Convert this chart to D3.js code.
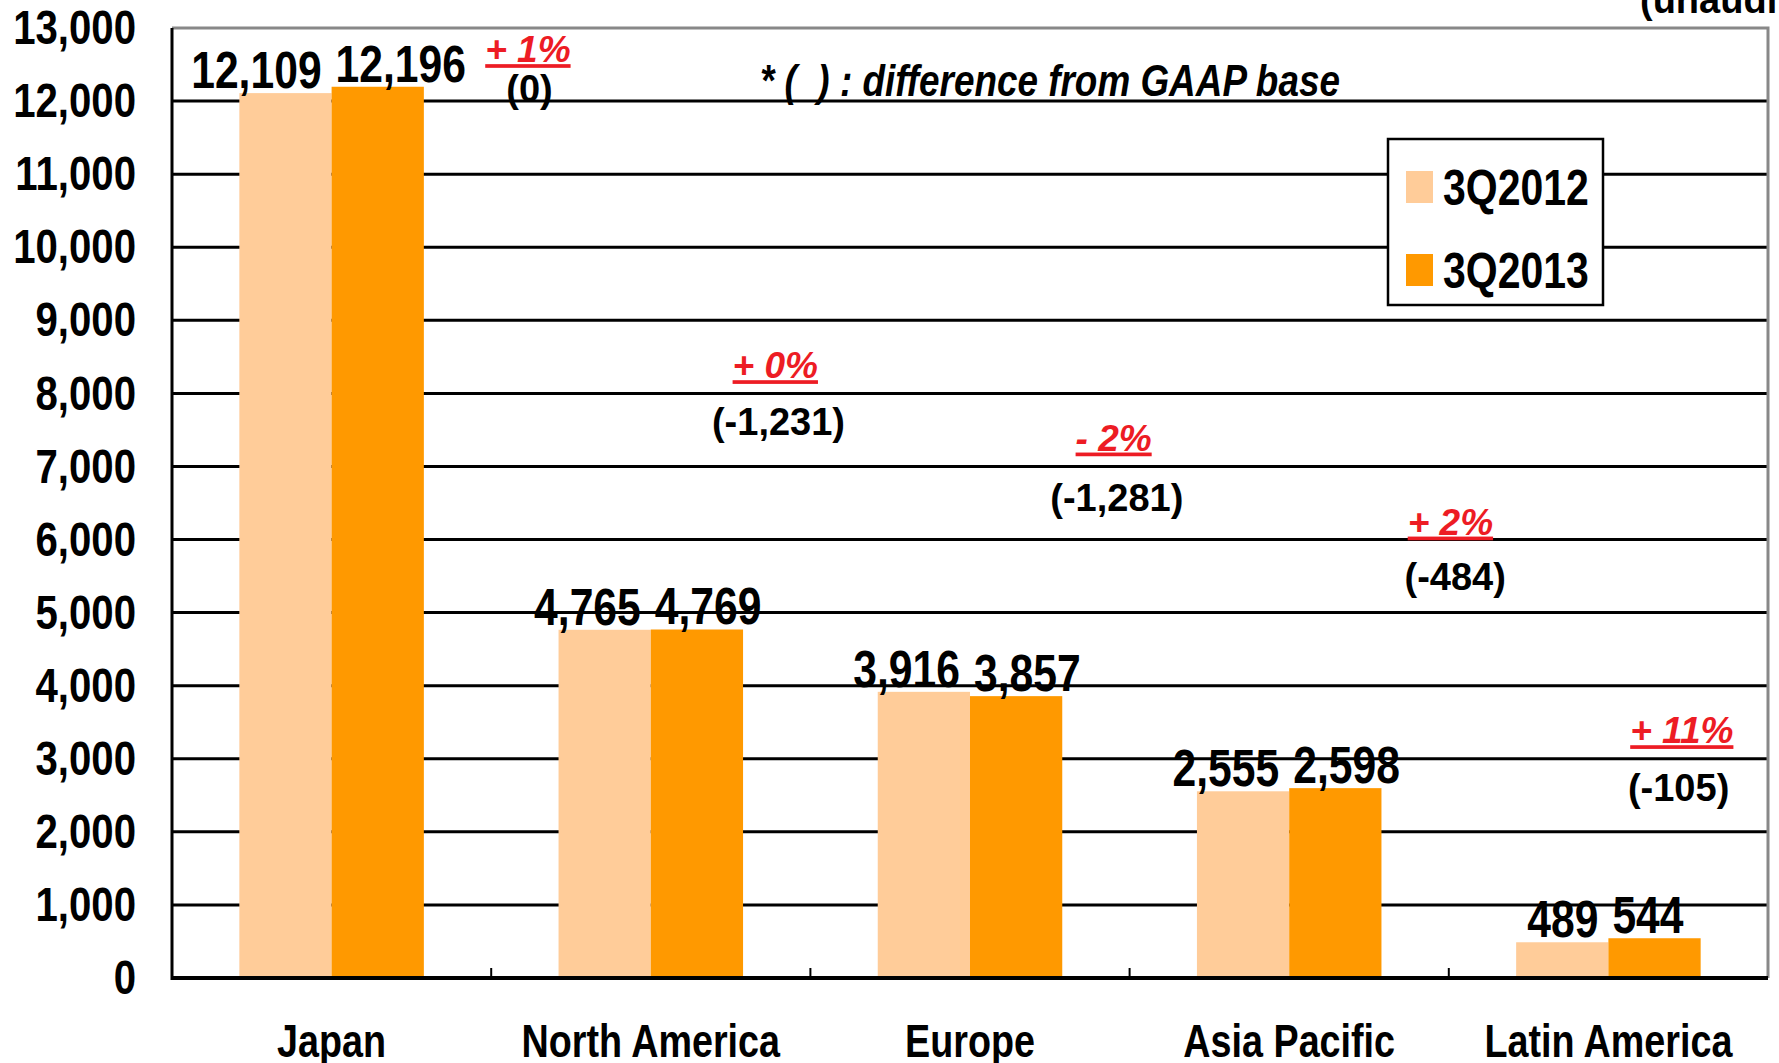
<!DOCTYPE html>
<html>
<head>
<meta charset="utf-8">
<script src="https://cdn.jsdelivr.net/npm/d3@7"></script>
<style>
  body { margin: 0; background: #fff; }
</style>
</head>
<body>
<script>
const regions = ["Japan", "North America", "Europe", "Asia Pacific", "Latin America"];
const series = ["3Q2012", "3Q2013"];
const sales2012 = [12109, 4765, 3916, 2555, 489];
const sales2013 = [12196, 4769, 3857, 2598, 544];
const changePct = ["+ 1%", "+ 0%", "- 2%", "+ 2%", "+ 11%"];
const gaapDiff = ["(0)", "(-1,231)", "(-1,281)", "(-484)", "(-105)"];
// where the notes sit: x in category units from the axis, y in sales units
const pctX = [1.115, 1.89, 2.95, 4.005, 4.73];
const pctY = [12715, 8390, 7400, 6250, 3395];
const diffX = [1.12, 1.9, 2.96, 4.02, 4.72];
const diffY = [12170, 7620, 6580, 5500, 2615];
const yTicks = d3.range(0, 13001, 1000);
const colors = ["#ffcc99", "#ff9900"];

const W = 1779, H = 1063;
const margin = { top: 28, right: 11, bottom: 85, left: 172 };
const iw = W - margin.left - margin.right;
const ih = H - margin.top - margin.bottom;

const sans = "'Liberation Sans', Arial, sans-serif";
const K = 0.82; // no narrow face installed, so squeeze the regular one

// squeeze text horizontally about its own anchor
function condense(sel) {
  sel.each(function () {
    const t = d3.select(this);
    const x = +t.attr("x") || 0;
    t.attr("x", x / K).attr("transform", `scale(${K},1)`);
  });
}

const svg = d3.select("body").append("svg").attr("width", W).attr("height", H);
const g = svg.append("g").attr("transform", `translate(${margin.left},${margin.top})`);

const x0 = d3.scaleBand().domain(regions).range([0, iw]);
const x1 = d3.scaleBand().domain(series).range([0, x0.bandwidth()]).paddingOuter(0.73);
const xs = d3.scaleLinear().domain([0, regions.length]).range([0, iw]);
const y = d3.scaleLinear().domain([0, 13000]).range([ih, 0]);

// gridlines
g.selectAll("line.grid")
  .data(yTicks.filter((d) => d > 0 && d < 13000))
  .enter()
  .append("line")
  .attr("x1", 0)
  .attr("x2", iw)
  .attr("y1", (d) => y(d))
  .attr("y2", (d) => y(d))
  .attr("stroke", "#000")
  .attr("stroke-width", 3);

// frame top + right (gray)
g.append("path")
  .attr("d", `M0,${y(13000)}H${iw}V${ih}`)
  .attr("fill", "none")
  .attr("stroke", "#888")
  .attr("stroke-width", 3);

// bars
const rows = regions.map((r, i) => ({ region: r, vals: [sales2012[i], sales2013[i]] }));
const grp = g.selectAll("g.cat").data(rows).enter().append("g")
  .attr("transform", (d) => `translate(${x0(d.region)},0)`);

grp.selectAll("rect")
  .data((d) => d.vals.map((v, j) => ({ key: series[j], v, j })))
  .enter()
  .append("rect")
  .attr("x", (d) => x1(d.key))
  .attr("y", (d) => y(d.v))
  .attr("width", x1.bandwidth())
  .attr("height", (d) => ih - y(d.v))
  .attr("fill", (d) => colors[d.j]);

// value labels
grp.selectAll("text.val")
  .data((d) => d.vals.map((v, j) => ({ key: series[j], v, j })))
  .enter()
  .append("text")
  .attr("x", (d) => (d.j === 0 ? x1(d.key) + x1.bandwidth() - 10 : x1(d.key) + 4))
  .attr("y", (d) => y(d.v) - 5)
  .attr("text-anchor", (d) => (d.j === 0 ? "end" : "start"))
  .attr("font-family", sans)
  .attr("font-weight", "bold")
  .attr("font-size", 52)
  .text((d) => d3.format(",")(d.v))
  .call(condense);

// y axis
const yAxis = g.append("g")
  .call(d3.axisLeft(y).tickValues(yTicks).tickFormat(d3.format(",")).tickSize(0).tickPadding(36));
yAxis.select(".domain").remove();
yAxis.selectAll("text")
  .attr("font-family", sans)
  .attr("font-weight", "bold")
  .attr("font-size", 49)
  .attr("fill", "#000")
  .call(condense);
g.append("line")
  .attr("x1", 0).attr("x2", 0).attr("y1", y(13000)).attr("y2", ih + 2)
  .attr("stroke", "#000").attr("stroke-width", 3);

// x axis
const xAxis = g.append("g").attr("transform", `translate(0,${ih})`)
  .call(d3.axisBottom(x0).tickSize(0).tickPadding(46));
xAxis.select(".domain").remove();
xAxis.selectAll("text")
  .attr("font-family", sans)
  .attr("font-weight", "bold")
  .attr("font-size", 46)
  .attr("fill", "#000")
  .call(condense);
g.append("line")
  .attr("x1", 0).attr("x2", iw).attr("y1", ih).attr("y2", ih)
  .attr("stroke", "#000").attr("stroke-width", 4);
g.selectAll("line.xtick")
  .data(d3.range(1, regions.length))
  .enter()
  .append("line")
  .attr("x1", (d) => xs(d)).attr("x2", (d) => xs(d))
  .attr("y1", ih).attr("y2", ih - 10)
  .attr("stroke", "#000").attr("stroke-width", 2);

// change notes
g.selectAll("text.pct")
  .data(changePct)
  .enter()
  .append("text")
  .attr("x", (d, i) => xs(pctX[i]))
  .attr("y", (d, i) => y(pctY[i]))
  .attr("dy", "0.36em")
  .attr("text-anchor", "middle")
  .attr("font-family", sans)
  .attr("font-weight", "bold")
  .attr("font-style", "italic")
  .attr("font-size", 37)
  .attr("fill", "#ed1c24")
  .attr("text-decoration", "underline")
  .text((d) => d);

g.selectAll("text.diff")
  .data(gaapDiff)
  .enter()
  .append("text")
  .attr("x", (d, i) => xs(diffX[i]))
  .attr("y", (d, i) => y(diffY[i]))
  .attr("dy", "0.36em")
  .attr("text-anchor", "middle")
  .attr("font-family", sans)
  .attr("font-weight", "bold")
  .attr("font-size", 38)
  .attr("fill", "#000")
  .text((d) => d);

// footnote + unaudited
svg.append("text")
  .attr("x", 760).attr("y", 96)
  .attr("font-family", sans)
  .attr("font-weight", "bold")
  .attr("font-style", "italic")
  .attr("font-size", 45)
  .style("white-space", "pre")
  .text("* (  ) : difference from GAAP base")
  .call(condense);

svg.append("text")
  .attr("x", 1640).attr("y", 13)
  .attr("font-family", sans)
  .attr("font-weight", "bold")
  .attr("font-size", 38)
  .text("(unaudited)");

// legend
const lg = svg.append("g").attr("transform", "translate(1388,139)");
lg.append("rect")
  .attr("width", 215).attr("height", 166)
  .attr("fill", "#fff").attr("stroke", "#000").attr("stroke-width", 2.5);
const li = lg.selectAll("g.item").data(series).enter().append("g")
  .attr("transform", (d, i) => `translate(18,${32 + i * 83})`);
li.append("rect").attr("width", 27).attr("height", 32).attr("fill", (d, i) => colors[i]);
li.append("text")
  .attr("x", 37).attr("y", 16).attr("dy", "0.36em")
  .attr("font-family", sans)
  .attr("font-weight", "bold")
  .attr("font-size", 50)
  .text((d) => d)
  .call(condense);
</script>
</body>
</html>
